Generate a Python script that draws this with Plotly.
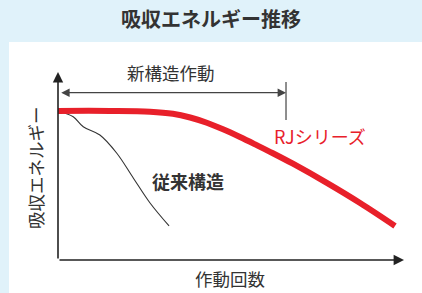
import plotly.graph_objects as go

# ---- data (arbitrary units: x = operation count 0-100, y = absorbed energy 0-100)
rj_x = [0, 15, 26.6, 33.2, 38.2, 43.0, 47.7, 52.6, 57.4, 62.1, 67.9, 77.7, 87.3, 97.4]
rj_y = [79.3, 79.3, 78.9, 77.8, 75.8, 73.0, 69.5, 65.4, 61.1, 56.8, 51.2, 41.0, 30.3, 18.1]
old_x = [0, 4.4, 7.3, 12.1, 17.0, 21.8, 26.6, 32.1]
old_y = [79.3, 76.2, 70.9, 66.5, 56.8, 43.5, 30.3, 18.1]
new_span_end = 65.9          # end of "新構造作動" range
span_arrow_y = 89.0

title_text = "吸収エネルギー推移"
x_label = "作動回数"
y_label = "吸収エネルギー"
rj_label = "RJシリーズ"
old_label = "従来構造"
span_label = "新構造作動"

FONT = "Noto Sans CJK JP"
RED = "#e8202a"
DARK = "#333333"
BG = "#e0f2fa"

fig = go.Figure()
fig.add_trace(go.Scatter(x=old_x, y=old_y, mode="lines", line=dict(color=DARK, width=1.1, shape="spline"),
                         cliponaxis=False, hoverinfo="skip"))
fig.add_trace(go.Scatter(x=rj_x, y=rj_y, mode="lines", line=dict(color=RED, width=6, shape="spline"),
                         cliponaxis=False, hoverinfo="skip"))

W, H = 422, 293
ml, mr, mt, mb = 58, 18, 72, 33
pw, ph = W - ml - mr, H - mt - mb

def px2paper_x(px):
    return (px - ml) / pw

def py2paper_y(py):
    return (H - mb - py) / ph

shapes = [
    dict(type="rect", xref="paper", yref="paper", layer="below",
         x0=px2paper_x(9), x1=px2paper_x(430), y0=py2paper_y(300), y1=py2paper_y(42),
         fillcolor="white", line=dict(width=0)),
    dict(type="line", xref="x", yref="y", x0=new_span_end, x1=new_span_end, y0=74.5, y1=94.7,
         line=dict(color="#444", width=1.2)),
]

annotations = [
    # axes arrows
    dict(x=0, y=100, ax=0, ay=0, xref="x", yref="y", axref="x", ayref="y", text="", showarrow=True,
         arrowhead=2, arrowsize=1.3, arrowwidth=1.6, arrowcolor="#222", standoff=0),
    dict(x=100, y=0, ax=0, ay=0, xref="x", yref="y", axref="x", ayref="y", text="", showarrow=True,
         arrowhead=2, arrowsize=1.3, arrowwidth=1.6, arrowcolor="#222", standoff=0),
    # span arrow
    dict(x=new_span_end, y=span_arrow_y, ax=0.5, ay=span_arrow_y, xref="x", yref="y", axref="x", ayref="y",
         text="", showarrow=True, arrowhead=2, startarrowhead=2, arrowside="end+start",
         arrowsize=1.4, startarrowsize=1.4, arrowwidth=1.2, arrowcolor="#444", standoff=0, startstandoff=0),
    # labels
    dict(x=32.7, y=99.7, xref="x", yref="y", text=span_label, showarrow=False,
         xanchor="center", yanchor="middle", font=dict(family=FONT, size=17.5, color=DARK)),
    dict(x=75.6, y=66, xref="x", yref="y", text=rj_label, showarrow=False,
         xanchor="center", yanchor="middle", font=dict(family=FONT, size=18, color=RED)),
    dict(x=37.5, y=42, xref="x", yref="y", text="<b>" + old_label + "</b>", showarrow=False,
         xanchor="center", yanchor="middle", font=dict(family=FONT, size=18, color=DARK)),
    dict(x=px2paper_x(229.5), y=py2paper_y(278), xref="paper", yref="paper", text=x_label, showarrow=False,
         xanchor="center", yanchor="middle", font=dict(family=FONT, size=17.5, color=DARK)),
    dict(x=px2paper_x(35), y=py2paper_y(168), xref="paper", yref="paper", text=y_label, showarrow=False,
         xanchor="center", yanchor="middle", textangle=-90, font=dict(family=FONT, size=17.5, color=DARK)),
]

fig.update_layout(
    width=W, height=H,
    margin=dict(l=ml, r=mr, t=mt, b=mb),
    paper_bgcolor=BG, plot_bgcolor="white",
    showlegend=False,
    title=dict(text="<b>" + title_text + "</b>", x=0.5, xanchor="center",
               y=1 - 20 / H, yanchor="middle", yref="container",
               font=dict(family=FONT, size=20, color=DARK)),
    xaxis=dict(range=[0, 100], visible=False, fixedrange=True),
    yaxis=dict(range=[0, 100], visible=False, fixedrange=True),
    shapes=shapes, annotations=annotations,
)
fig.update_layout(title_xref="container")

fig.write_html("out.html", config={"displayModeBar": False},
               post_script="document.body.style.margin='0';document.body.style.overflow='hidden';")
